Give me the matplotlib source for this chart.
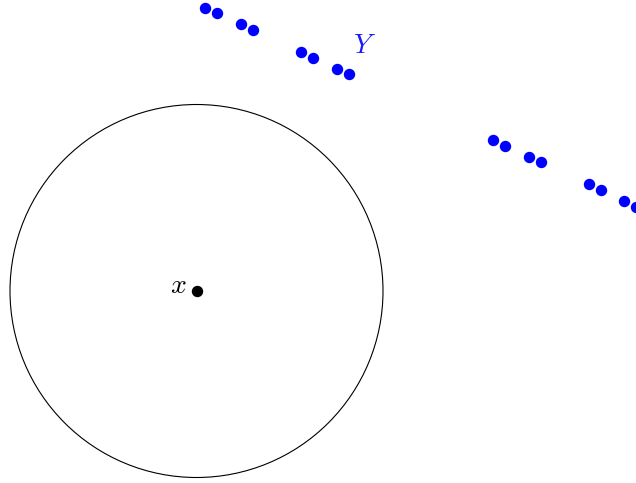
import matplotlib
matplotlib.use("Agg")
import matplotlib.pyplot as plt
from matplotlib.patches import Circle

plt.rcParams['mathtext.fontset'] = 'cm'

W, H = 636, 483
# coordinates in a pixel-like system, y measured upward from the bottom
circle_center = (196.5, 483 - 291.0)
circle_radius = 186.5
center_label = r"$x$"

y_dots_x = [205, 217.3, 241, 253, 301, 313, 337, 349,
            492.7, 504.7, 529, 540.7, 588.7, 600.7, 624.3, 636]
y_dots_y = [483 - v for v in [7.7, 13.3, 24.3, 30, 52, 57.7, 68.7, 74,
                              140, 145.7, 156.7, 162.3, 184.3, 190, 201, 206.7]]
y_label = r"$Y$"
y_label_pos = (365, 483 - 45)
x_label_pos = (178, 483 - 285)

fig = plt.figure(figsize=(W / 100, H / 100), dpi=100)
ax = fig.add_axes([0, 0, 1, 1])
ax.set_xlim(0, W)
ax.set_ylim(0, H)
ax.set_aspect('equal')
ax.axis('off')

ax.add_patch(Circle(circle_center, circle_radius, fill=False, ec='black', lw=0.8))
ax.plot([circle_center[0]], [circle_center[1]], 'o', color='black', ms=7.2)
ax.text(*x_label_pos, center_label, fontsize=20, ha='center', va='center', color='black')

ax.plot(y_dots_x, y_dots_y, 'o', color='#0000ff', ms=7.2, ls='none', clip_on=True)
ax.text(*y_label_pos, y_label, fontsize=20, ha='center', va='center', color='#1a1aff')

fig.savefig("out.png", dpi=100)
